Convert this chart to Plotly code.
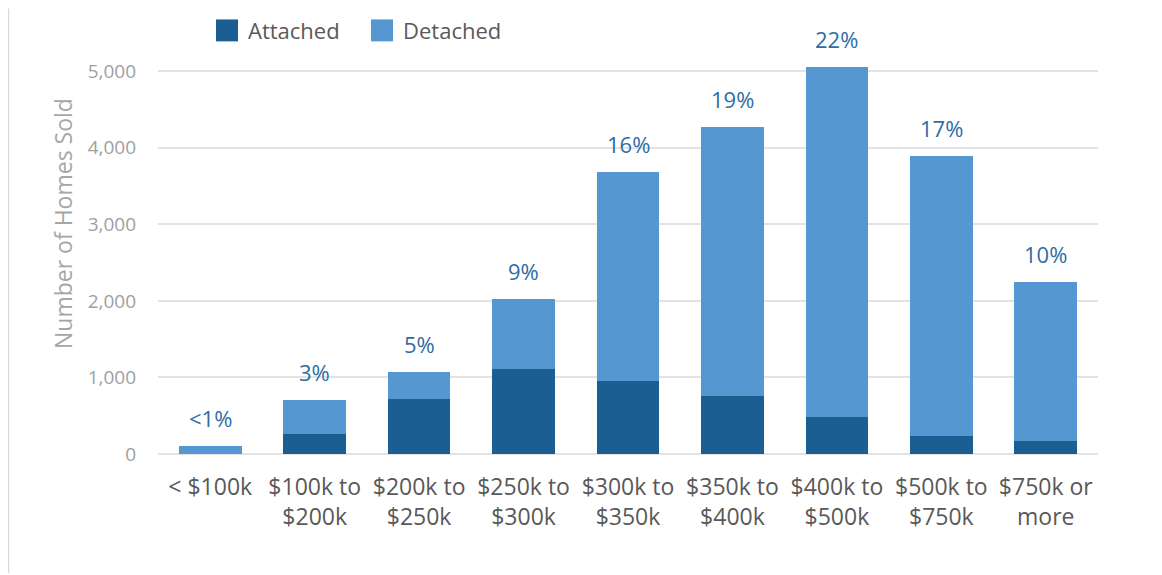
import plotly.graph_objects as go

categories = ["< $100k", "$100k to<br>$200k", "$200k to<br>$250k", "$250k to<br>$300k",
              "$300k to<br>$350k", "$350k to<br>$400k", "$400k to<br>$500k",
              "$500k to<br>$750k", "$750k or<br>more"]
attached = [3, 265, 725, 1115, 960, 752, 478, 230, 165]
detached = [100, 447, 352, 912, 2723, 3518, 4574, 3662, 2086]
pct_labels = ["<1%", "3%", "5%", "9%", "16%", "19%", "22%", "17%", "10%"]
y_ticks = [0, 1000, 2000, 3000, 4000, 5000]

C_ATT = "#1a5e92"
C_DET = "#5597d0"
FONT = "Open Sans"

OFF = 8  # page body margin
W, H = 1162, 575
L, R = 158 - OFF, 1098 - OFF
Y0_PX, Y_TOP_PX = 454.5 - OFF, 32.6 - OFF
YMAX = 5500

fig = go.Figure()
fig.add_trace(go.Bar(x=categories, y=attached, name="Attached", marker_color=C_ATT,
                     marker_line_width=0))
fig.add_trace(go.Bar(x=categories, y=detached, name="Detached", marker_color=C_DET,
                     marker_line_width=0))

totals = [a + d for a, d in zip(attached, detached)]
for c, t, p in zip(categories, totals, pct_labels):
    fig.add_annotation(x=c, y=t, text=p, showarrow=False, yanchor="bottom", yshift=11,
                       font=dict(family=FONT, size=22, color="#2e6da4"))

def px_x(px):
    return (px - OFF - L) / (R - L)

def px_y(py):
    return (Y0_PX - (py - OFF)) / (Y0_PX - Y_TOP_PX)

# legend (manual)
for sq_x, txt, col in [(216, "Attached", C_ATT), (371, "Detached", C_DET)]:
    fig.add_shape(type="rect", xref="paper", yref="paper",
                  x0=px_x(sq_x), x1=px_x(sq_x + 22), y0=px_y(41), y1=px_y(19),
                  fillcolor=col, line_width=0)
    fig.add_annotation(xref="paper", yref="paper", x=px_x(sq_x + 30), y=px_y(30),
                       text=txt, showarrow=False, xanchor="left", yanchor="middle",
                       font=dict(family=FONT, size=22, color="#595959"))

# y-axis title
fig.add_annotation(xref="paper", yref="paper", x=px_x(63), y=px_y(224),
                   text="Number of Homes Sold", showarrow=False, textangle=-90,
                   xanchor="center", yanchor="middle",
                   font=dict(family=FONT, size=23, color="#a6a6a6"))

# left border line
fig.add_shape(type="line", xref="paper", yref="paper",
              x0=px_x(8.5), x1=px_x(8.5), y0=px_y(574), y1=px_y(8),
              line=dict(color="#d9d9d9", width=1.5))

fig.update_layout(
    barmode="stack",
    bargap=0.4,
    width=W, height=H,
    margin=dict(l=L, r=W - R, t=Y_TOP_PX, b=H - Y0_PX, autoexpand=False),
    plot_bgcolor="white", paper_bgcolor="white",
    showlegend=False,
    font=dict(family=FONT),
)
fig.update_xaxes(tickfont=dict(size=23, color="#595959"), showgrid=False, zeroline=False,
                 ticks="", ticklabelstandoff=17)
fig.update_yaxes(range=[0, YMAX], tickvals=y_ticks, tickformat=",d",
                 tickfont=dict(size=19, color="#a0a0a0"),
                 gridcolor="#e3e3e3", gridwidth=1.5, zeroline=True,
                 zerolinecolor="#e3e3e3", zerolinewidth=1.5,
                 ticks="", ticklabelstandoff=21)

fig.write_html("out.html")
